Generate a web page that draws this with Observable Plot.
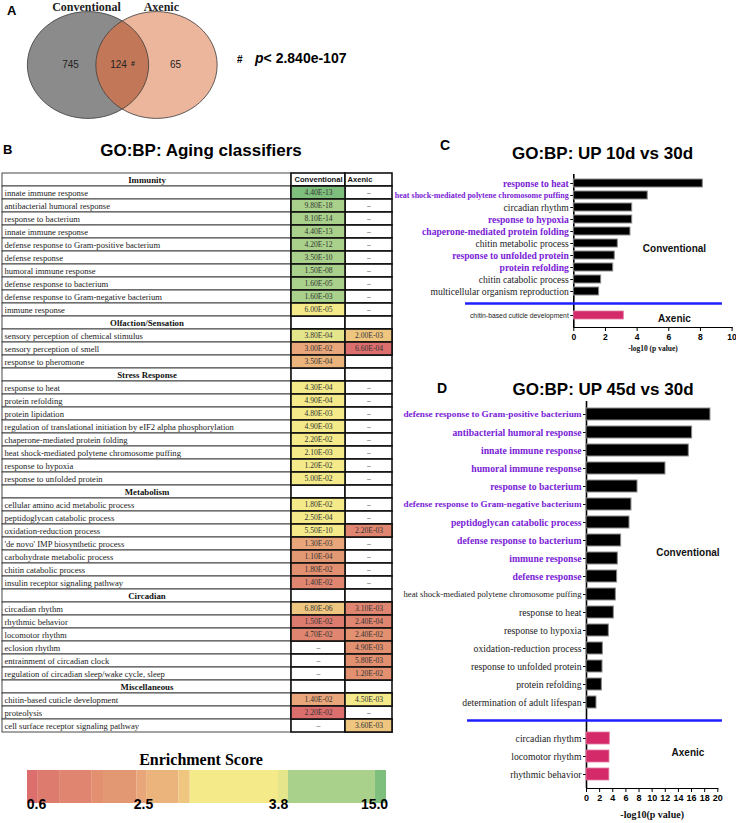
<!DOCTYPE html>
<html>
<head>
<meta charset="utf-8">
<script src="https://cdn.jsdelivr.net/npm/d3@7"></script>
<script src="https://cdn.jsdelivr.net/npm/@observablehq/plot@0.6"></script>
<style>
  html, body { margin: 0; padding: 0; background: #fff; }
  #root { position: relative; width: 736px; height: 823px; overflow: hidden; background: #fff; }
  #root > svg { position: absolute; left: 0; top: 0; }
  .lbl { position: absolute; white-space: nowrap; line-height: 1; color: #000; }
</style>
</head>
<body>
<div id="root"></div>
<script>
// ================= DATA =================
// Panel A – Venn
const vennSets = ["Conventional", "Axenic"];
const vennCounts = [745, 124, 65];          // Conventional only, shared, Axenic only
const vennPValue = "2.840e-107";

// Panel B – GO:BP aging classifiers table
const groupNames = ["Immunity", "Olfaction/Sensation", "Stress Response", "Metabolism", "Circadian", "Miscellaneous"];
const terms = [
  "innate immune response", "antibacterial humoral response", "response to bacterium", "innate immune response",
  "defense response to Gram-positive bacterium", "defense response", "humoral immune response",
  "defense response to bacterium", "defense response to Gram-negative bacterium", "immune response",
  "sensory perception of chemical stimulus", "sensory perception of smell", "response to pheromone",
  "response to heat", "protein refolding", "protein lipidation",
  "regulation of translational initiation by eIF2 alpha phosphorylation", "chaperone-mediated protein folding",
  "heat shock-mediated polytene chromosome puffing", "response to hypoxia", "response to unfolded protein",
  "cellular amino acid metabolic process", "peptidoglycan catabolic process", "oxidation-reduction process",
  "'de novo' IMP biosynthetic process", "carbohydrate metabolic process", "chitin catabolic process",
  "insulin receptor signaling pathway",
  "circadian rhythm", "rhythmic behavior", "locomotor rhythm", "eclosion rhythm", "entrainment of circadian clock",
  "regulation of circadian sleep/wake cycle, sleep",
  "chitin-based cuticle development", "proteolysis", "cell surface receptor signaling pathway"
];
const termGroup = [0,0,0,0,0,0,0,0,0,0, 1,1,1, 2,2,2,2,2,2,2,2, 3,3,3,3,3,3,3, 4,4,4,4,4,4, 5,5,5];
// null = "–" (not enriched), "" = empty cell
const convP = [
  "4.40E-13","9.80E-18","8.10E-14","4.40E-13","4.20E-12","3.50E-10","1.50E-08","1.60E-05","1.60E-03","6.00E-05",
  "3.80E-04","3.00E-02","3.50E-04",
  "4.30E-04","4.90E-04","4.80E-03","4.90E-03","2.20E-02","2.10E-03","1.20E-02","5.00E-02",
  "1.80E-02","2.50E-04","5.50E-10","1.30E-03","1.10E-04","1.80E-02","1.40E-02",
  "6.80E-06","1.50E-02","4.70E-02",null,null,null,
  "1.40E-02","2.20E-02",null
];
const axenicP = [
  null,null,null,null,null,null,null,null,null,null,
  "2.00E-03","6.60E-04","",
  null,null,null,null,null,null,null,null,
  null,null,"2.20E-03",null,null,null,null,
  "3.10E-03","2.40E-04","2.40E-02","4.90E-03","5.80E-03","1.20E-02",
  "4.50E-03",null,"3.60E-03"
];
// enrichment scores
const convScore = [
  16,10,10,10,10,10,10,10,10,3.5,
  4.5,2.45,2.7,
  3.5,3.5,3.5,3.5,3.5,3.5,3.5,3.5,
  3.5,3.5,3.5,2.45,2.1,1.7,1.3,
  2.9,0.8,1.3,null,null,null,
  2.45,0.5,null
];
const axenicScore = [
  null,null,null,null,null,null,null,null,null,null,
  2.9,0.5,null,
  null,null,null,null,null,null,null,null,
  null,null,1.3,null,null,null,null,
  1.3,1.3,1.7,1.7,1.7,1.7,
  3.5,null,2.9
];
// Enrichment score legend
const legendTicks = [0.6, 2.5, 3.8, 15.0];
const scoreThresholds = [0.62, 1.01, 1.59, 1.79, 2.38, 2.53, 2.84, 2.95, 3.80, 4.97, 15.12];
const legendEnds = [0.44, 16.4];

// Panel C – GO:BP UP 10d vs 30d
const cConvTerms = ["response to heat", "heat shock-mediated polytene chromosome puffing", "circadian rhythm",
  "response to hypoxia", "chaperone-mediated protein folding", "chitin metabolic process",
  "response to unfolded protein", "protein refolding", "chitin catabolic process", "multicellular organism reproduction"];
const cConvValues = [8.15, 4.67, 3.69, 3.69, 3.58, 2.78, 2.59, 2.49, 1.73, 1.6];
const cConvHighlight = [1, 1, 0, 1, 1, 0, 1, 1, 0, 0];
const cAxTerms = ["chitin-based cuticle development"];
const cAxValues = [3.16];

// Panel D – GO:BP UP 45d vs 30d
const dConvTerms = ["defense response to Gram-positive bacterium", "antibacterial humoral response",
  "innate immune response", "humoral immune response", "response to bacterium",
  "defense response to Gram-negative bacterium", "peptidoglycan catabolic process",
  "defense response to bacterium", "immune response", "defense response",
  "heat shock-mediated polytene chromosome puffing", "response to heat", "response to hypoxia",
  "oxidation-reduction process", "response to unfolded protein", "protein refolding",
  "determination of adult lifespan"];
const dConvValues = [18.88, 16.09, 15.58, 12.03, 7.77, 6.85, 6.55, 5.28, 4.77, 4.67, 4.47, 4.16, 3.4, 2.49, 2.44, 2.34, 1.52];
const dConvHighlight = [1,1,1,1,1,1,1,1,1,1, 0,0,0,0,0,0,0];
const dAxTerms = ["circadian rhythm", "locomotor rhythm", "rhythmic behavior"];
const dAxValues = [3.55, 3.5, 3.48];

// ================= STYLE / LAYOUT =================
const W = 736, H = 823;
const SERIF = "'Liberation Serif', 'Times New Roman', serif";
const SANS = "'Liberation Sans', Arial, sans-serif";
const NARROW = "'Liberation Sans Narrow', 'Liberation Sans', Arial, sans-serif";
const PURPLE = "#7a22d6", PINK = "#d42a6a", BLUE = "#1f1fff";
const VENN_COLORS = {conv: "#8b8b8b", ax: "#ecb69c", both: "#c27858", line: "#3a3a3a"};
const SCORE_COLORS = ["#dc6e6e","#de7b6f","#e08670","#e29070","#e39874","#e9a67a","#ebb47d","#eec680","#f4ea8a","#e5e58b","#a9d18b","#7fbf7e"];
const COLOR = {type: "threshold", domain: scoreThresholds, range: SCORE_COLORS};
const baseStyle = (size) => `background: transparent; overflow: visible; font-family: ${NARROW}; font-size: ${size}px; font-weight: bold; color: #000;`;

const root = document.getElementById("root");
const measureCtx = document.createElement("canvas").getContext("2d");
function fitSize(text, weight, family, size, maxW) {
  measureCtx.font = `${weight} ${size}px ${family}`;
  const w = measureCtx.measureText(text).width;
  return w > maxW ? size * maxW / w : size;
}
function label(html, {x, baseline, size, weight = "bold", family = SANS, anchor = "start"}) {
  const div = document.createElement("div");
  div.className = "lbl";
  div.innerHTML = html;
  const asc = family === SERIF ? 0.8375 : 0.8465;
  div.style.cssText = `left:${x}px; top:${baseline - asc * size}px; font-size:${size}px; font-weight:${weight}; font-family:${family};` +
    (anchor === "middle" ? "transform: translateX(-50%);" : "");
  root.appendChild(div);
}

// ================= PANEL A: VENN =================
const ellipseSymbol = {
  draw(ctx, size) {
    const r = Math.sqrt(size / Math.PI), rx = r * 1.064, ry = r * 0.937, k = 0.5523;
    ctx.moveTo(rx, 0);
    ctx.bezierCurveTo(rx, ry * k, rx * k, ry, 0, ry);
    ctx.bezierCurveTo(-rx * k, ry, -rx, ry * k, -rx, 0);
    ctx.bezierCurveTo(-rx, -ry * k, -rx * k, -ry, 0, -ry);
    ctx.bezierCurveTo(rx * k, -ry, rx, -ry * k, rx, 0);
    ctx.closePath();
  }
};
const VENN = {nameX: [-0.022, 1.07], nameY: 1.09, countX: [-0.255, 0.445, 1.277], r: 57};
const vennPlot = Plot.plot({
  width: W, height: H, margin: 0, style: baseStyle(10),
  x: {domain: [0, 1], range: [87.5, 156], axis: null},
  y: {domain: [-1, 1], range: [118, 11], axis: null},
  marks: [
    // 0: conventional set, 1: axenic set, 2: shared region (conventional shape clipped to axenic), 3: outlines
    Plot.dot([vennSets[0]], {x: () => 0, y: () => 0, r: VENN.r, symbol: ellipseSymbol, fill: VENN_COLORS.conv}),
    Plot.dot([vennSets[1]], {x: () => 1, y: () => 0, r: VENN.r, symbol: ellipseSymbol, fill: VENN_COLORS.ax}),
    Plot.dot([vennSets[0]], {x: () => 0, y: () => 0, r: VENN.r, symbol: ellipseSymbol, fill: VENN_COLORS.both}),
    Plot.dot(vennSets, {x: (d, i) => i, y: () => 0, r: VENN.r, symbol: ellipseSymbol, fill: "none", stroke: VENN_COLORS.line, strokeWidth: 0.8}),
    Plot.text(vennSets, {x: (d, i) => VENN.nameX[i], y: () => VENN.nameY, text: d => d, fontFamily: SERIF, fontWeight: "bold", fontSize: 12, fill: "#222"}),
    Plot.text(vennCounts, {x: (d, i) => VENN.countX[i], y: () => 0, text: d => String(d), fontFamily: SANS, fontWeight: "normal", fontSize: 10, fill: "#222"}),
    Plot.text([vennCounts[1]], {x: () => VENN.countX[1], y: () => 0, text: () => "#", dx: 14.5, dy: -1.5, fontFamily: SANS, fontWeight: "bold", fontSize: 7, fill: "#222"})
  ]
});
// clip the shared-region ellipse (group) to the Axenic ellipse
{
  const ns = "http://www.w3.org/2000/svg";
  const dots = vennPlot.querySelectorAll('g[aria-label="dot"]');
  const axPath = dots[1].querySelector("path");
  const clip = document.createElementNS(ns, "clipPath");
  clip.setAttribute("id", "venn-shared-clip");
  clip.setAttribute("clipPathUnits", "userSpaceOnUse");
  const cp = document.createElementNS(ns, "path");
  cp.setAttribute("d", axPath.getAttribute("d"));
  if (axPath.getAttribute("transform")) cp.setAttribute("transform", axPath.getAttribute("transform"));
  const gT = dots[1].getAttribute("transform");
  const holder = document.createElementNS(ns, "g");
  clip.appendChild(cp);
  vennPlot.appendChild(clip);
  // wrap the shared group so the clip lives in root user space
  dots[2].parentNode.insertBefore(holder, dots[2]);
  holder.appendChild(dots[2]);
  if (gT) cp.setAttribute("transform", gT + " " + (cp.getAttribute("transform") || ""));
  holder.setAttribute("clip-path", "url(#venn-shared-clip)");
}
root.appendChild(vennPlot);

// ================= PANEL B: TABLE =================
const rows = [];
groupNames.forEach((g, gi) => {
  rows.push({kind: "header", label: g});
  terms.forEach((t, i) => {
    if (termGroup[i] === gi) rows.push({kind: "term", label: t, conv: convP[i], ax: axenicP[i], cs: convScore[i], as: axenicScore[i]});
  });
});
rows.forEach((r, i) => (r.row = i));
const termRows = rows.filter(r => r.kind === "term");
const headRows = rows.filter(r => r.kind === "header");
const COLS = [0, 289, 343, 390];   // term | conventional | axenic column edges
const convMid = (COLS[1] + COLS[2]) / 2, axMid = (COLS[2] + COLS[3]) / 2;
root.appendChild(Plot.plot({
  width: W, height: H, margin: 0, style: baseStyle(9),
  x: {domain: [0, COLS[3]], range: [2, 392], axis: null},
  y: {type: "band", domain: rows.map(r => r.row), range: [162.3, 741.7], padding: 0, axis: null},
  color: COLOR,
  marks: [
    Plot.barX(rows, {x1: () => COLS[0], x2: () => COLS[1], y: "row", fill: "white", stroke: "#333", strokeWidth: 0.9}),
    Plot.barX(rows, {x1: () => COLS[1], x2: () => COLS[2], y: "row", fill: "white", stroke: "#111", strokeWidth: 1.6}),
    Plot.barX(rows, {x1: () => COLS[2], x2: () => COLS[3], y: "row", fill: "white", stroke: "#111", strokeWidth: 1.6}),
    Plot.barX(termRows.filter(r => r.cs != null), {x1: () => COLS[1], x2: () => COLS[2], y: "row", fill: "cs", stroke: "#111", strokeWidth: 1.6}),
    Plot.barX(termRows.filter(r => r.as != null), {x1: () => COLS[2], x2: () => COLS[3], y: "row", fill: "as", stroke: "#111", strokeWidth: 1.6}),
    Plot.text(headRows, {x: () => COLS[1] / 2, y: "row", text: "label", fontFamily: SERIF, fontWeight: "bold", fontSize: 8.8, fill: "#111"}),
    Plot.text(termRows, {x: () => COLS[0], dx: 2, y: "row", text: "label", textAnchor: "start", fontFamily: SERIF, fontWeight: "normal", fontSize: 8.6, fill: "#222"}),
    Plot.text(termRows, {x: () => convMid, y: "row", text: r => r.conv ?? "–", fontFamily: SERIF, fontWeight: "normal", fontSize: 7.6, fill: "#333"}),
    Plot.text(termRows, {x: () => axMid, y: "row", text: r => r.ax ?? "–", fontFamily: SERIF, fontWeight: "normal", fontSize: 7.6, fill: "#333"}),
    Plot.text([rows[0]], {x: () => convMid, y: "row", text: () => vennSets[0], fontFamily: SANS, fontWeight: "bold", fontSize: 7.6, fill: "#111"}),
    Plot.text([rows[0]], {x: () => COLS[2], dx: 2, y: "row", text: () => vennSets[1], textAnchor: "start", fontFamily: SANS, fontWeight: "bold", fontSize: 7.6, fill: "#111"})
  ]
}));

// Enrichment score colour bar
const legendEdges = [legendEnds[0], ...scoreThresholds, legendEnds[1]];
const legendSegments = d3.pairs(legendEdges).map(([lo, hi]) => ({lo, hi}));
root.appendChild(Plot.plot({
  width: W, height: H, marginLeft: 0, marginRight: 0, marginTop: 770, marginBottom: 20, style: baseStyle(10),
  x: {type: "linear", domain: legendTicks, range: [36, 143, 278, 374], axis: null},
  color: COLOR,
  marks: [
    Plot.barX(legendSegments, {x1: "lo", x2: "hi", fill: d => (d.lo + d.hi) / 2}),
    Plot.text(legendTicks, {x: d => d, text: d => d.toFixed(1), frameAnchor: "bottom", dy: 5.5, fontFamily: SANS, fontWeight: "bold", fontSize: 14, fill: "#000"})
  ]
}));

// ================= PANELS C & D: BAR CHARTS =================
function barPanel(P) {
  const L = P.layout;
  const SEP = "__separator__";
  const conv = P.convTerms.map((term, i) => ({term, value: P.convValues[i], hi: !!P.convHighlight[i]}));
  const ax = P.axTerms.map((term, i) => ({term, value: P.axValues[i]}));
  const domain = [...P.convTerms, SEP, ...P.axTerms];
  return Plot.plot({
    width: W, height: H,
    marginLeft: L.left, marginRight: W - L.right, marginTop: L.top, marginBottom: H - L.bottom,
    style: baseStyle(L.tickFont),
    x: {domain: [0, L.xmax], ticks: L.xmax / 2, tickSize: 4, tickPadding: 2, line: true, label: null},
    y: {domain, padding: 0, insetTop: L.insetTop, insetBottom: L.insetBottom, tickSize: 3, tickFormat: () => "", label: null},
    marks: [
      Plot.ruleX([0], {stroke: "#000", strokeWidth: 1.6}),
      Plot.barX(conv, {x: "value", y: "term", fill: "#000", stroke: "#8c8c8c", strokeWidth: 1, insetTop: L.barInset, insetBottom: L.barInset}),
      Plot.barX(ax, {x: "value", y: "term", fill: PINK, stroke: "#e27ba0", strokeWidth: 0.8, insetTop: L.barInset, insetBottom: L.barInset}),
      Plot.ruleY([SEP], {x1: () => L.sep[0], x2: () => L.sep[1], stroke: BLUE, strokeWidth: 2.5}),
      Plot.text(conv.filter(d => d.hi), {x: () => 0, y: "term", text: "term", dx: -5, textAnchor: "end", fill: PURPLE,
        fontFamily: SERIF, fontWeight: "bold", fontSize: d => fitSize(d.term, "bold", SERIF, L.labelSize, L.labelMaxW)}),
      Plot.text(conv.filter(d => !d.hi), {x: () => 0, y: "term", text: "term", dx: -5, textAnchor: "end", fill: "#222",
        fontFamily: SERIF, fontWeight: "normal", fontSize: d => fitSize(d.term, "normal", SERIF, L.labelSize, L.labelMaxW)}),
      Plot.text(ax, {x: () => 0, y: "term", text: "term", dx: -5, textAnchor: "end", fill: "#222",
        fontFamily: L.axFamily, fontWeight: "normal", fontSize: d => fitSize(d.term, "normal", L.axFamily, L.axSize, L.axMaxW)}),
      Plot.text([P.groups[0]], {x: () => L.convTag.x, y: () => L.convTag.term, dy: L.convTag.dy, text: d => d, fontFamily: SANS, fontWeight: "bold", fontSize: 10, fill: "#111"}),
      Plot.text([P.groups[1]], {x: () => L.axTag.x, y: () => L.axTag.term, dy: L.axTag.dy, text: d => d, fontFamily: SANS, fontWeight: "bold", fontSize: 10, fill: "#111"}),
      Plot.text([P.xLabel], {frameAnchor: "bottom", dy: L.xLabelDy, text: d => d, fontFamily: SERIF, fontWeight: "bold", fontSize: L.xLabelSize, fill: "#111"})
    ]
  });
}

root.appendChild(barPanel({
  convTerms: cConvTerms, convValues: cConvValues, convHighlight: cConvHighlight,
  axTerms: cAxTerms, axValues: cAxValues, groups: vennSets, xLabel: "-log10 (p value)",
  layout: {left: 573.3, right: 731.6, top: 174, bottom: 327, insetTop: 0.85, insetBottom: 4.55, xmax: 10, tickFont: 8.5,
    barInset: 2, labelSize: 9.6, labelMaxW: 174, axFamily: NARROW, axSize: 8.3, axMaxW: 99, sep: [-6.84, 9.39],
    convTag: {x: 6.36, term: "chitin metabolic process", dy: 5.5}, axTag: {x: 6.36, term: cAxTerms[0], dy: 3.6},
    xLabelDy: 23, xLabelSize: 7.5}
}));

root.appendChild(barPanel({
  convTerms: dConvTerms, convValues: dConvValues, convHighlight: dConvHighlight,
  axTerms: dAxTerms, axValues: dAxValues, groups: vennSets, xLabel: "-log10(p value)",
  layout: {left: 586, right: 717.3, top: 401, bottom: 788, insetTop: 1.9, insetBottom: 3.1, xmax: 20, tickFont: 9,
    barInset: 3, labelSize: 9.7, labelMaxW: 178, axFamily: SERIF, axSize: 9.7, axMaxW: 178, sep: [-18.12, 20.71],
    convTag: {x: 15.45, term: "immune response", dy: -5.5}, axTag: {x: 15.45, term: "locomotor rhythm", dy: -3.6},
    xLabelDy: 29, xLabelSize: 10}
}));

// ================= TEXT: panel letters, titles =================
label("A", {x: 7, baseline: 15, size: 13});
label("B", {x: 3, baseline: 154.5, size: 13});
label("C", {x: 440, baseline: 150, size: 14});
label("D", {x: 437, baseline: 393, size: 14});
label("GO:BP: Aging classifiers", {x: 201, baseline: 156, size: 17, anchor: "middle"});
label("GO:BP: UP 10d vs 30d", {x: 602.5, baseline: 159, size: 17, anchor: "middle"});
label("GO:BP: UP 45d vs 30d", {x: 603, baseline: 395, size: 17, anchor: "middle"});
label("Enrichment Score", {x: 201, baseline: 765.5, size: 16, family: SERIF, anchor: "middle"});
label("#", {x: 237, baseline: 63, size: 10});
label(`<i>p</i>&lt; ${vennPValue}`, {x: 255, baseline: 62.5, size: 14});
</script>
</body>
</html>
